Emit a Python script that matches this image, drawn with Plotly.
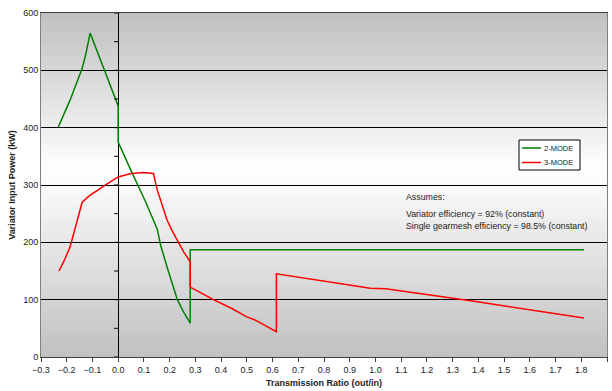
import numpy as np
import plotly.graph_objects as go

# 2-MODE curve (transmission ratio vs variator input power, kW)
green_x = [-0.233, -0.21, -0.187, -0.165, -0.14, -0.125, -0.109, 0.0, 0.0, 0.05, 0.105, 0.152,
           0.165, 0.19, 0.21, 0.23, 0.255, 0.28, 0.28, 1.81]
green_y = [401, 423, 448, 474, 503, 530, 565, 438, 375, 325, 272, 223,
           195, 157, 127, 100, 78, 59, 187, 187]

# 3-MODE curve
red_x = [-0.23, -0.21, -0.187, -0.16, -0.14, -0.11, -0.082, -0.04, 0.0, 0.05, 0.1, 0.137,
         0.152, 0.17, 0.19, 0.21, 0.234, 0.255, 0.28, 0.28, 0.37, 0.44, 0.50, 0.535,
         0.615, 0.615, 0.98, 1.04, 1.37, 1.81]
red_y = [150, 168, 192, 235, 270, 282, 291, 303, 314, 320, 322, 320,
         291, 265, 239, 220, 200, 183, 166, 122, 100, 85, 70, 64,
         44, 145, 120, 119, 98, 68]

series_names = ["2-MODE", "3-MODE"]
series_colors = ["#008000", "#ff0000"]

note_lines = ["Assumes:", "Variator efficiency = 92% (constant)",
              "Single gearmesh efficiency = 98.5% (constant)"]

x_range = [-0.3, 1.9]
y_range = [0, 600]
x_ticks = [round(v, 1) for v in np.arange(-0.3, 1.95, 0.1)]
y_ticks = list(range(0, 601, 100))

FONT = "Liberation Sans, Arial, sans-serif"

fig = go.Figure()
fig.add_trace(go.Scatter(x=green_x, y=green_y, mode="lines", name=series_names[0],
                         line=dict(color=series_colors[0], width=1.5), showlegend=False))
fig.add_trace(go.Scatter(x=red_x, y=red_y, mode="lines", name=series_names[1],
                         line=dict(color=series_colors[1], width=1.5), showlegend=False))

shapes = []
# Plot-area fill: grey at top and bottom, fading to white near the middle
n_bands = 100
peak = 330.0
edge = np.array([192, 192, 192])
span = y_range[1] - y_range[0]
for i in range(n_bands):
    y0 = y_range[0] + span * i / n_bands
    y1 = y_range[0] + span * (i + 1) / n_bands
    yc = 0.5 * (y0 + y1)
    t = (yc - peak) / (y_range[1] - peak) if yc > peak else (peak - yc) / (peak - y_range[0])
    c = np.round(255 - (255 - edge) * t).astype(int)
    # bands overlap slightly so no seams show between them
    shapes.append(dict(type="rect", xref="x", yref="y", x0=x_range[0], x1=x_range[1],
                       y0=max(y0 - 3, y_range[0]), y1=min(y1 + 3, y_range[1]),
                       line=dict(width=0),
                       fillcolor=f"rgb({c[0]},{c[1]},{c[2]})", layer="below"))

# Tick marks along the vertical axis line at x = 0
for yv in range(0, 601, 50):
    shapes.append(dict(type="line", xref="x", yref="y", xsizemode="pixel", xanchor=0,
                       x0=-4, x1=0, y0=yv, y1=yv, line=dict(color="black", width=1)))

W, H = 612, 391
ml, mr, mt, mb = 41, 5, 13, 34
pw, ph = W - ml - mr, H - mt - mb


def px_to_paper(px, py):
    return (px - ml) / pw, 1 - (py - mt) / ph


# Legend box
lg_x0, lg_x1, lg_y0, lg_y1 = 519, 580, 140, 170
bx0, by0 = px_to_paper(lg_x0, lg_y1)
bx1, by1 = px_to_paper(lg_x1, lg_y0)
shapes.append(dict(type="rect", xref="paper", yref="paper", x0=bx0, x1=bx1, y0=by0, y1=by1,
                   line=dict(color="black", width=1), fillcolor="white", layer="above"))

annotations = []
for k, (name, col) in enumerate(zip(series_names, series_colors)):
    py = 148 + k * 14.5
    lx0, ly = px_to_paper(522, py)
    lx1, _ = px_to_paper(541, py)
    shapes.append(dict(type="line", xref="paper", yref="paper", x0=lx0, x1=lx1, y0=ly, y1=ly,
                       line=dict(color=col, width=1.5), layer="above"))
    tx, _ = px_to_paper(542, py)
    annotations.append(dict(x=tx, y=ly, xref="paper", yref="paper", text=name,
                            showarrow=False, xanchor="left", yanchor="middle",
                            font=dict(family=FONT, size=7.5, color="#222")))

for text, py in zip(note_lines, [197, 214, 226]):
    nx, ny = px_to_paper(404, py)
    annotations.append(dict(x=nx, y=ny, xref="paper", yref="paper", text=text,
                            showarrow=False, xanchor="left", yanchor="middle",
                            font=dict(family=FONT, size=8.8, color="#222")))

fig.update_layout(
    width=W, height=H,
    margin=dict(l=ml, r=mr, t=mt, b=mb),
    paper_bgcolor="white", plot_bgcolor="white",
    font=dict(family=FONT, size=9, color="#222"),
    shapes=shapes, annotations=annotations,
    showlegend=False,
)
fig.update_xaxes(
    range=x_range, tickvals=x_ticks, tickformat=".1f",
    showgrid=False, zeroline=True, zerolinecolor="black", zerolinewidth=1,
    showline=True, linecolor="#404040", linewidth=1, mirror=True,
    ticks="outside", ticklen=4, tickcolor="#404040",
    tickfont=dict(size=9, color="#222"),
    title=dict(text="<b>Transmission Ratio (out/in)</b>", font=dict(size=9, color="#222"),
               standoff=5),
)
fig.update_yaxes(
    range=y_range, tickvals=y_ticks,
    showgrid=True, gridcolor="black", gridwidth=1,
    zeroline=False,
    showline=True, linecolor="#808080", linewidth=1, mirror=True,
    ticks="", ticklen=0,
    tickfont=dict(size=9, color="#222"),
    title=dict(text="<b>Variator Input Power (kW)</b>", font=dict(size=9, color="#222"),
               standoff=6),
)

fig.write_html("out.html")
